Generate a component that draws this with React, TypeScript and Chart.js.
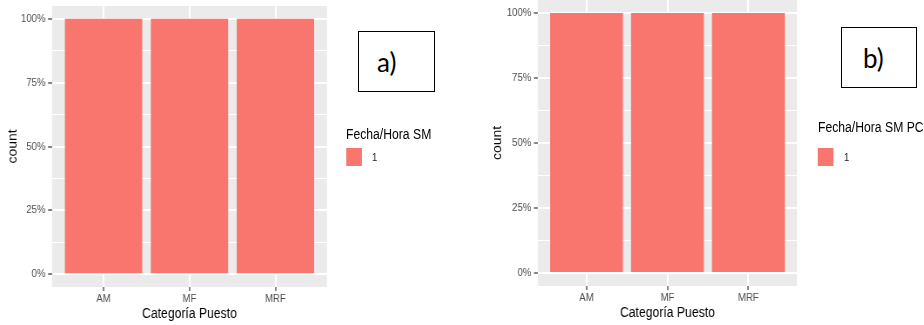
import React, { useEffect, useRef } from 'react';
import { Chart, registerables } from 'chart.js';

Chart.register(...registerables);

// ---- data ----
const categories = ['AM', 'MF', 'MRF'];
const shareSM = [1, 1, 1]; // proportion per category, panel a
const shareSMPC = [1, 1, 1]; // proportion per category, panel b
const yMajorTicks = [0, 0.25, 0.5, 0.75, 1];
const yMinorTicks = [0.125, 0.375, 0.625, 0.875];
const xTitle = 'Categoría Puesto';
const yTitle = 'count';
const legendTitleA = 'Fecha/Hora SM';
const legendTitleB = 'Fecha/Hora SM PC';
const legendLabels = ['1'];
const panelTags = ['a)', 'b)'];

// ---- styling ----
const SQUEEZE = 0.87; // horizontal compression of the plotting stage
const FONT = "'Liberation Sans', Arial, Helvetica, sans-serif";
const BAR_COLOR = '#F8766D';
const PANEL_BG = '#EBEBEB';

type Geom = {
  left: number; // actual px
  width: number; // actual px
  plotLeft: number; // actual px
  plotRight: number; // actual px
  plotTop: number;
  plotBottom: number;
  yTitleCenter: number; // actual px
  xTitleCenter: number; // px from top
};

const panelBackground = {
  id: 'panelBackground',
  beforeDraw(chart: any) {
    const { ctx, chartArea: a } = chart;
    ctx.save();
    ctx.fillStyle = PANEL_BG;
    ctx.fillRect(a.left, a.top, a.right - a.left, a.bottom - a.top);
    ctx.restore();
  },
};

const isMajor = (v: number) => yMajorTicks.some((m) => Math.abs(m - v) < 1e-9);

function BarPanel({ values, g }: { values: number[]; g: Geom }) {
  const ref = useRef<HTMLCanvasElement | null>(null);
  const H = 325;
  const wStage = g.width / SQUEEZE;
  const axisWidth = (g.plotLeft - g.left) / SQUEEZE;
  const padRight = (g.left + g.width - g.plotRight) / SQUEEZE;
  const xAxisHeight = H - g.plotBottom;
  const titleSize = 14;
  const titleHalf = (titleSize * 1.2) / 2;

  useEffect(() => {
    if (!ref.current) return;
    const chart = new Chart(ref.current, {
      type: 'bar',
      data: {
        datasets: [
          {
            data: categories.map((_, i) => ({ x: i + 1, y: values[i] })),
            backgroundColor: BAR_COLOR,
            borderWidth: 0,
            barPercentage: 0.9,
            categoryPercentage: 1,
          },
        ],
      },
      options: {
        animation: false,
        responsive: false,
        maintainAspectRatio: false,
        layout: { padding: { top: g.plotTop, right: padRight, left: 0, bottom: 0 } },
        plugins: { legend: { display: false }, tooltip: { enabled: false } },
        scales: {
          x: {
            type: 'linear',
            min: 0.4,
            max: 3.6,
            offset: false,
            afterBuildTicks: (s: any) => {
              s.ticks = categories.map((_, i) => ({ value: i + 1 }));
            },
            afterFit: (s: any) => {
              s.height = xAxisHeight;
              s.paddingLeft = 0;
              s.paddingRight = 0;
            },
            ticks: {
              autoSkip: false,
              maxRotation: 0,
              padding: 1,
              color: '#4D4D4D',
              font: { family: FONT, size: 11 },
              callback: (v: any) => categories[Math.round(Number(v)) - 1] ?? '',
            },
            grid: {
              offset: false,
              color: '#FFFFFF',
              lineWidth: 2,
              tickColor: '#333333',
              tickLength: 4,
              tickWidth: 1.2,
            },
            border: { display: false },
            title: {
              display: true,
              text: xTitle,
              color: '#000000',
              font: { family: FONT, size: titleSize },
              padding: { top: 0, bottom: H - g.xTitleCenter - titleHalf },
            },
          },
          y: {
            type: 'linear',
            min: -0.05,
            max: 1.05,
            afterBuildTicks: (s: any) => {
              s.ticks = [...yMajorTicks, ...yMinorTicks]
                .sort((a, b) => a - b)
                .map((value) => ({ value }));
            },
            afterFit: (s: any) => {
              s.width = axisWidth;
              s.paddingTop = 0;
              s.paddingBottom = 0;
            },
            ticks: {
              autoSkip: false,
              padding: 3,
              color: '#4D4D4D',
              font: { family: FONT, size: 11 },
              callback: (v: any) => (isMajor(Number(v)) ? `${Math.round(Number(v) * 100)}%` : ''),
            },
            grid: {
              color: '#FFFFFF',
              lineWidth: (c: any) => (isMajor(c.tick?.value) ? 2 : 1),
              tickColor: (c: any) => (isMajor(c.tick?.value) ? '#333333' : 'rgba(0,0,0,0)'),
              tickLength: 4.6,
              tickWidth: 1.2,
            },
            border: { display: false },
            title: {
              display: true,
              text: yTitle,
              color: '#000000',
              font: { family: FONT, size: titleSize },
              padding: { top: Math.max(0, (g.yTitleCenter - g.left) / SQUEEZE - titleHalf), bottom: 0 },
            },
          },
        },
      } as any,
      plugins: [panelBackground],
    });
    return () => chart.destroy();
  }, []);

  return (
    <canvas
      ref={ref}
      width={wStage}
      height={H}
      style={{ position: 'absolute', left: g.left / SQUEEZE, top: 0, width: wStage, height: H }}
    />
  );
}

function Legend({ title, left, titleTop }: { title: string; left: number; titleTop: number }) {
  const L = left / SQUEEZE;
  return (
    <>
      <div
        style={{
          position: 'absolute',
          left: L,
          top: titleTop,
          font: `14px ${FONT}`,
          lineHeight: '14px',
          color: '#000',
          whiteSpace: 'nowrap',
        }}
      >
        {title}
      </div>
      {legendLabels.map((lab, i) => (
        <React.Fragment key={lab}>
          <div
            style={{
              position: 'absolute',
              left: L,
              top: 148 + i * 20,
              width: 18,
              height: 18,
              background: BAR_COLOR,
            }}
          />
          <div
            style={{
              position: 'absolute',
              left: L + 26 / SQUEEZE,
              top: 151.5 + i * 20,
              font: `11px ${FONT}`,
              lineHeight: '11px',
              color: '#1A1A1A',
            }}
          >
            {lab}
          </div>
        </React.Fragment>
      ))}
    </>
  );
}

function TagBox({ text, left, top, width, height, inset }: any) {
  return (
    <div
      style={{
        position: 'absolute',
        left,
        top,
        width,
        height,
        boxSizing: 'border-box',
        border: '1px solid #000',
        background: '#fff',
        display: 'flex',
        alignItems: 'center',
        paddingLeft: inset,
        font: "26px Lato, 'Open Sans', sans-serif",
        color: '#000',
      }}
    >
      {text}
    </div>
  );
}

const geomA: Geom = {
  left: 0,
  width: 335,
  plotLeft: 52,
  plotRight: 327,
  plotTop: 6,
  plotBottom: 287,
  yTitleCenter: 13,
  xTitleCenter: 314,
};

const geomB: Geom = {
  left: 490,
  width: 320,
  plotLeft: 538,
  plotRight: 797,
  plotTop: 0,
  plotBottom: 286,
  yTitleCenter: 498,
  xTitleCenter: 313,
};

export default function App() {
  return (
    <div
      style={{
        position: 'fixed',
        left: 0,
        top: 0,
        width: 924,
        height: 325,
        overflow: 'hidden',
        background: '#fff',
      }}
    >
      <div
        style={{
          position: 'absolute',
          left: 0,
          top: 0,
          width: 924 / SQUEEZE,
          height: 325,
          transform: `scaleX(${SQUEEZE})`,
          transformOrigin: '0 0',
        }}
      >
        <BarPanel values={shareSM} g={geomA} />
        <BarPanel values={shareSMPC} g={geomB} />
        <Legend title={legendTitleA} left={346} titleTop={127} />
        <Legend title={legendTitleB} left={818} titleTop={120} />
      </div>
      <TagBox text={panelTags[0]} left={358} top={31} width={77} height={61} inset={18} />
      <TagBox text={panelTags[1]} left={841} top={27} width={76} height={61} inset={21} />
    </div>
  );
}
